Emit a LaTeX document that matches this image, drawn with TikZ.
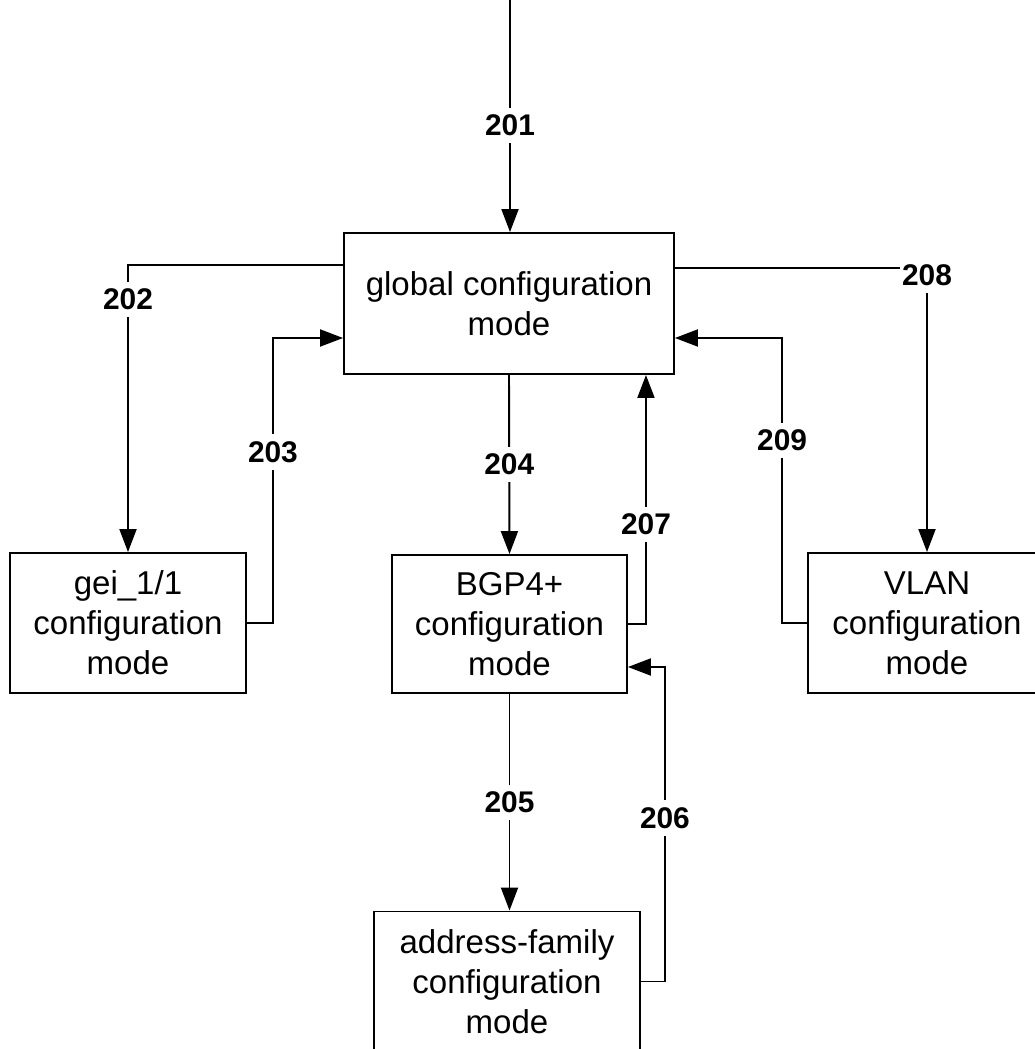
\documentclass[tikz,border=0pt]{standalone}
\usepackage{fontspec}
\setmainfont{Liberation Sans}
\usetikzlibrary{arrows.meta}
\begin{document}
\begin{tikzpicture}[x=0.02cm, y=-0.02cm, line width=1.1pt,
  mode/.style={draw, align=center, inner sep=0pt, font=\fontsize{18.8}{22.8}\selectfont},
  num/.style={fill=white, inner xsep=1pt, inner ysep=4pt, font=\fontsize{17}{20}\selectfont\bfseries},
  >={Triangle[length=0.46cm, width=0.34cm]}]
\clip (0,0) rectangle (1035,1049);

% the five modes
\node[mode, minimum width=6.6cm, minimum height=2.82cm] (global) at (509,303.5) {global configuration\\mode};
\node[mode, minimum width=4.72cm, minimum height=2.8cm] (gei) at (128,623) {gei\_1/1\\configuration\\mode};
\node[mode, minimum width=4.7cm, minimum height=2.76cm] (bgp) at (509.5,624) {BGP4+\\configuration\\mode};
\node[mode, minimum width=4.76cm, minimum height=2.8cm] (vlan) at (927,623) {VLAN\\configuration\\mode};
\node[mode, minimum width=5.32cm, minimum height=2.8cm] (addr) at (507,981.5) {address-family\\configuration\\mode};
\coordinate (top) at (510,-5);

\draw[->] (top) -- node[num, pos=0.55]{201} (top |- global.north);
\draw[->] ([yshift=0.77cm]global.west) -| node[num, pos=0.56]{202} (gei.north);
\draw[->] (gei.east) -- ++(0.52cm,0) |- node[num, pos=0.3]{203} ([yshift=-0.69cm]global.west);
\draw[->] (global.south) -- node[num]{204} (bgp.north);
\draw[->] (bgp.south) -- node[num]{205} (bgp.south |- addr.north);
\draw[->] (addr.east) -- ++(0.48cm,0) |- node[num, pos=0.26]{206} ([yshift=-0.86cm]bgp.east);
\draw[->] (bgp.east) -| node[num, pos=0.7]{207} ([xshift=2.74cm]global.south);
\draw[->] ([yshift=0.71cm]global.east) -| node[num, pos=0.5, yshift=-0.14cm]{208} (vlan.north);
\draw[->] (vlan.west) -- ++(-0.5cm,0) |- node[num, pos=0.32]{209} ([yshift=-0.69cm]global.east);
\end{tikzpicture}
\end{document}
